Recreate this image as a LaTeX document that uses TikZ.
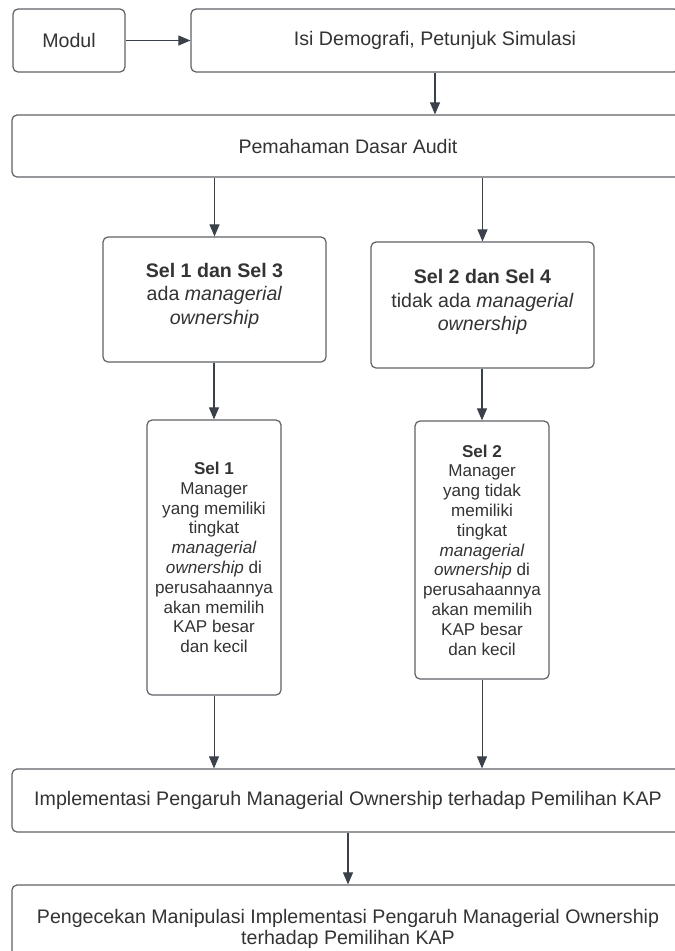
\documentclass[tikz,border=0pt]{standalone}
\usepackage{fontspec}
\setmainfont{Liberation Sans}
\usepackage{xcolor}
\usetikzlibrary{arrows.meta,positioning,calc}

\definecolor{boxline}{HTML}{5E6166}
\definecolor{txtgray}{HTML}{333333}
\definecolor{arrgray}{HTML}{3A414A}

\begin{document}
\begin{tikzpicture}[x=1pt,y=-1pt,
  box/.style={draw=boxline, line width=1.2pt, rounded corners=5pt, align=center,
    text=txtgray, inner sep=0pt, font=\fontsize{19.6}{21}\selectfont},
  grpbox/.style={box, font=\fontsize{19.6}{23.5}\selectfont},
  cellbox/.style={box, font=\fontsize{17.1}{19.8}\selectfont},
  flow/.style={draw=arrgray, line width=1.1pt, -{Triangle[length=12pt,width=10pt]}},
  thinflow/.style={draw=arrgray, line width=0.7pt, -{Triangle[length=12pt,width=10pt]}}]
\useasboundingbox (0,0) rectangle (675,951);
\clip (0,0) rectangle (675,951);

% Top row
\node[box, minimum width=112pt, minimum height=63pt] (modul) at (69,40.5) {Modul};
\node[box, minimum width=488pt, minimum height=63pt] (isi) at (435,40.5) {Isi Demografi, Petunjuk Simulasi};
\draw[flow] (modul) -- (isi);

% Basic understanding
\node[box, minimum width=672pt, minimum height=62pt] (dasar) at (348,146) {Pemahaman Dasar Audit};
\draw[flow] (isi.south) -- (isi.south |- dasar.north);

% Two groups
\node[grpbox, minimum width=223pt, minimum height=125pt] (grpA) at (214.5,299.5)
  {\textbf{Sel 1 dan Sel 3}\\ ada \textit{managerial}\\ \textit{ownership}\\[-12pt]};
\node[grpbox, minimum width=223pt, minimum height=126pt] (grpB) at (482.5,305)
  {\textbf{Sel 2 dan Sel 4}\\ tidak ada \textit{managerial}\\ \textit{ownership}\\[-14pt]};
\draw[flow] (dasar.south -| grpA.north) -- (grpA.north);
\draw[flow] (dasar.south -| grpB.north) -- (grpB.north);

% Cells
\node[cellbox, minimum width=134pt, minimum height=275pt] (sel1) at (214,557.5)
  {\textbf{Sel 1}\\ Manager\\ yang memiliki\\ tingkat\\ \textit{managerial}\\
   \textit{ownership} di\\ perusahaannya\\ akan memilih\\ KAP besar\\ dan kecil};
\node[cellbox, minimum width=134pt, minimum height=258pt] (sel2) at (482,550)
  {\textbf{Sel 2}\\ Manager\\ yang tidak\\ memiliki\\ tingkat\\ \textit{managerial}\\
   \textit{ownership} di\\ perusahaannya\\ akan memilih\\ KAP besar\\ dan kecil};
\draw[flow] (grpA.south -| sel1.north) -- (sel1.north);
\draw[flow] (grpB.south -| sel2.north) -- (sel2.north);

% Implementation and check
\node[box, minimum width=672pt, minimum height=63pt] (impl) at (348,800.5)
  {Implementasi Pengaruh Managerial Ownership terhadap Pemilihan KAP};
\node[box, minimum width=672pt, minimum height=88pt] (cek) at (348,929)
  {Pengecekan Manipulasi Implementasi Pengaruh Managerial Ownership\\ terhadap Pemilihan KAP};
\draw[thinflow] (sel1.south) -- (sel1.south |- impl.north);
\draw[thinflow] (sel2.south) -- (sel2.south |- impl.north);
\draw[flow] (impl.south) -- (impl.south |- cek.north);
\end{tikzpicture}
\end{document}
